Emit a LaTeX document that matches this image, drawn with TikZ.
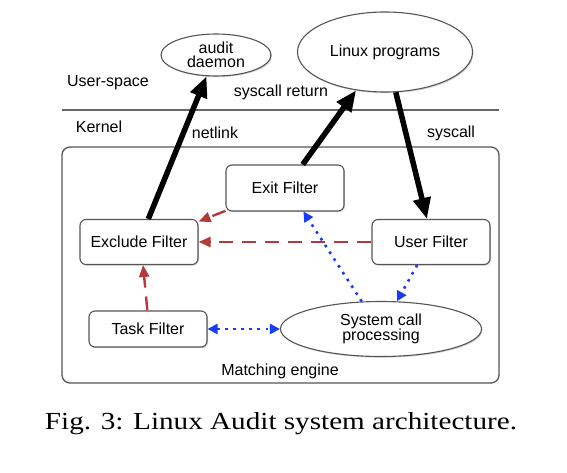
\documentclass[tikz,border=0pt]{standalone}
\usepackage{fontspec}
\setmainfont{Liberation Sans}
\newfontfamily\capfont{Liberation Serif}
\usetikzlibrary{shapes.geometric,arrows.meta,shadows}
\definecolor{redarrow}{HTML}{B23A3A}
\definecolor{bluearrow}{HTML}{1A3CF5}
\definecolor{boxline}{HTML}{555555}
\tikzset{
  filterbox/.style={draw=boxline, line width=1.1pt, rounded corners=6pt, fill=white,
    minimum width=118pt, align=center, font=\fontsize{16}{17.5}\selectfont,
    drop shadow={shadow xshift=1pt, shadow yshift=-1.2pt, opacity=0.35}},
  ell/.style={draw=boxline, line width=1.1pt, ellipse, fill=white, inner sep=0pt,
    align=center, font=\fontsize{16}{17.5}\selectfont,
    drop shadow={shadow xshift=1pt, shadow yshift=-1.2pt, opacity=0.35}},
  lbl/.style={font=\fontsize{16}{17.5}\selectfont, inner sep=0pt},
  blackarrow/.style={line width=5.5pt, -{Triangle[length=21pt,width=17pt]}},
  redline/.style={draw=redarrow, line width=2.4pt, dash pattern=on 14pt off 9pt,
    -{Triangle[length=12pt,width=10pt]}, color=redarrow},
  blueline/.style={draw=bluearrow, line width=2.6pt, dash pattern=on 2.6pt off 5.5pt,
    -{Triangle[length=10pt,width=10pt]}, color=bluearrow},
}
\begin{document}
\begin{tikzpicture}[x=1pt,y=-1pt]
\useasboundingbox (0,0) rectangle (567,473);
% layer line and engine box
\draw[draw=gray!80!black, line width=2pt] (62,110) -- (499,110);
\draw[draw=boxline, line width=1.3pt, rounded corners=8pt] (62,147) rectangle (499,383);
% nodes
\node[ell, minimum width=110pt, minimum height=42pt] (audit) at (216,55) {audit\\[-3pt]daemon};
\node[ell, minimum width=175pt, minimum height=80pt] (linux) at (385,52) {Linux programs};
\node[filterbox, minimum height=46pt] (exit) at (285,188) {Exit Filter};
\node[filterbox, minimum height=45pt] (exclude) at (139,242) {Exclude Filter};
\node[filterbox, minimum height=45pt] (user) at (431,242) {User Filter};
\node[filterbox, minimum height=36pt] (task) at (148,329) {Task Filter};
\node[ell, minimum width=201pt, minimum height=55pt] (sys) at (381,329) {System call\\[-3pt]processing};
% labels
\node[lbl] (us) at (108,83) {User-space};
\node[lbl] (sr) at (281,92) {syscall return};
\node[lbl] (kern) at (99,127) {Kernel};
\node[lbl] (nl) at (215,133) {netlink};
\node[lbl] (sc) at (451,133) {syscall};
\node[lbl] (me) at (280,371) {Matching engine};
\node[font=\capfont\fontsize{24.5}{28}\selectfont, inner sep=0pt, anchor=base] (cap) at (281,429) {\scalebox{1.19}[1]{Fig. 3: Linux Audit system architecture.}};
% black arrows
\draw[blackarrow] (exclude.68) -- (audit.246);
\draw[blackarrow] (exit.53) -- (linux.233);
\draw[blackarrow] (linux.285) -- (user.100);
% red arrows
\draw[redline] (exit.201) -- (exclude.19);
\draw[redline] (user.west) -- (exclude.east);
\draw[redline] (task.92) -- (exclude.280);
% blue arrows
\draw[blueline] (sys.125) -- (exit.308);
\draw[blueline] (user.239) -- (sys.60);
\draw[blueline, {Triangle[length=10pt,width=10pt]}-{Triangle[length=10pt,width=10pt]}] (task.east) -- (sys.west);
\end{tikzpicture}
\end{document}
